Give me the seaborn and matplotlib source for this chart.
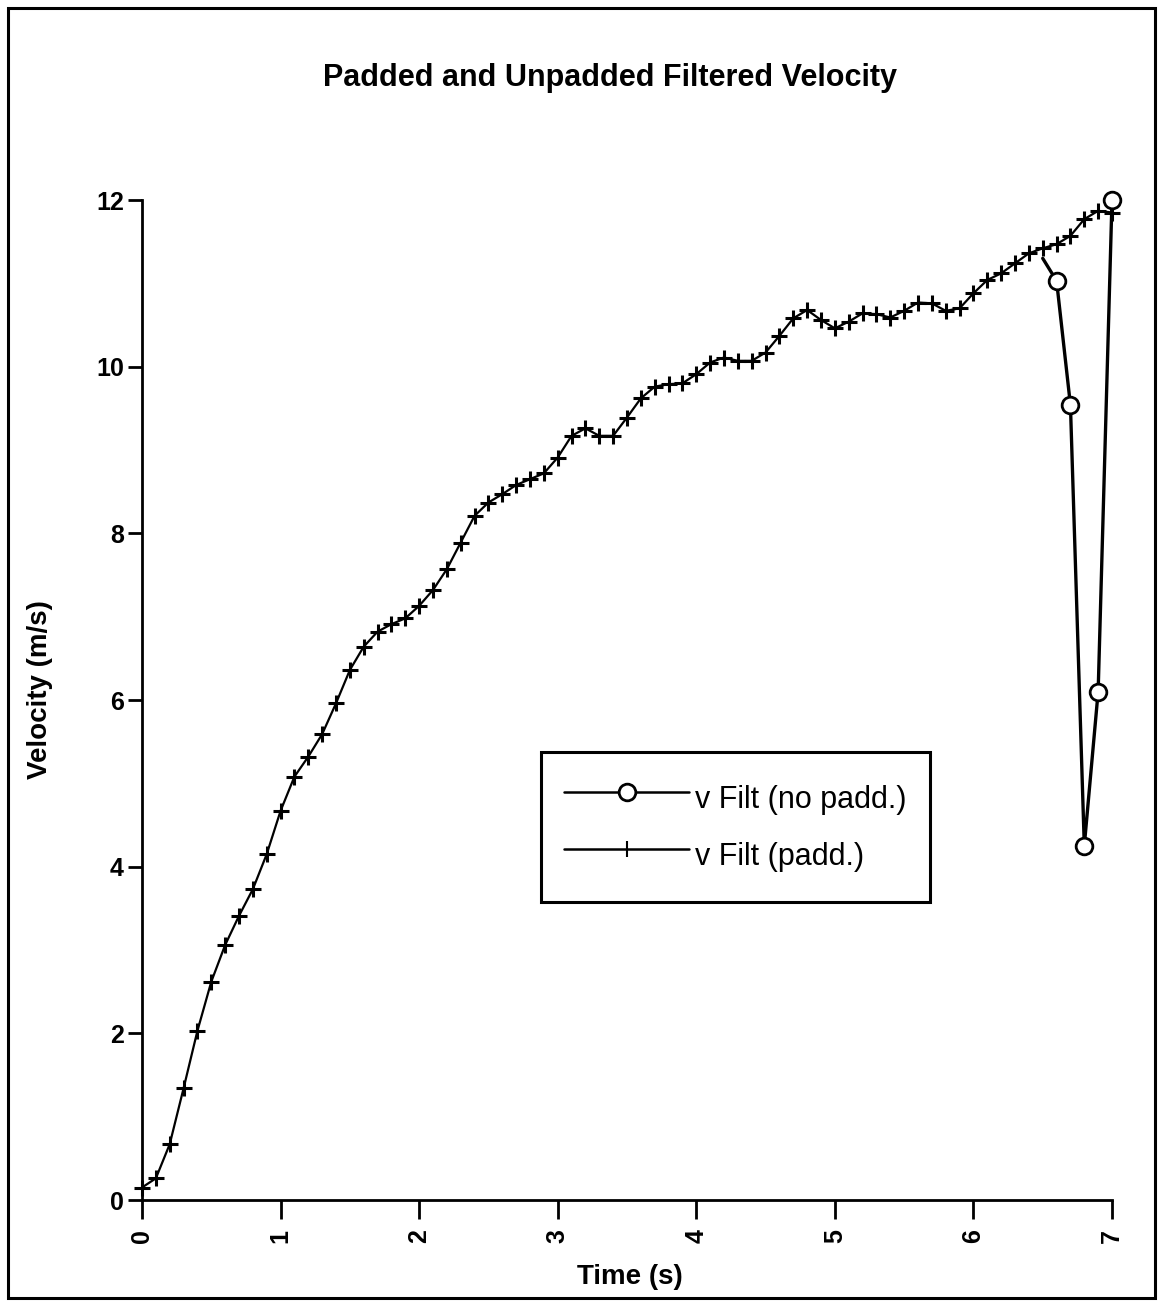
import numpy as np
import pandas as pd
import matplotlib
matplotlib.use("Agg")
import matplotlib.pyplot as plt
import seaborn as sns
from matplotlib.patches import Rectangle
from matplotlib.lines import Line2D

# Filtered velocity, padded signal (sampled every 0.1 s)
time_padded = [round(0.1 * i, 1) for i in range(71)]
v_padded = [
    0.15, 0.26, 0.67, 1.34, 2.03, 2.62, 3.06, 3.41, 3.73, 4.15,
    4.67, 5.08, 5.32, 5.59, 5.96, 6.36, 6.64, 6.82, 6.91, 6.98,
    7.13, 7.32, 7.57, 7.89, 8.21, 8.37, 8.47, 8.58, 8.65, 8.72,
    8.91, 9.17, 9.26, 9.17, 9.17, 9.39, 9.62, 9.76, 9.79, 9.80,
    9.91, 10.05, 10.11, 10.07, 10.07, 10.17, 10.37, 10.58, 10.68, 10.56,
    10.46, 10.54, 10.64, 10.63, 10.59, 10.67, 10.77, 10.76, 10.67, 10.70,
    10.88, 11.04, 11.12, 11.24, 11.36, 11.42, 11.47, 11.57, 11.77, 11.87,
    11.85,
]

# Filtered velocity without padding (end segment, where it departs)
time_unpadded = [6.5, 6.6, 6.7, 6.8, 6.9, 7.0]
v_unpadded = [11.30, 11.03, 9.54, 4.25, 6.10, 12.00]

label_unpadded = "v Filt (no padd.)"
label_padded = "v Filt (padd.)"
x_ticks = [0, 1, 2, 3, 4, 5, 6, 7]
y_ticks = [0, 2, 4, 6, 8, 10, 12]

sns.set_theme(style="white")
plt.rcParams["font.family"] = ["Liberation Sans", "DejaVu Sans"]
plt.rcParams["text.color"] = "black"
plt.rcParams["axes.labelcolor"] = "black"

W, H = 1159, 1304
fig = plt.figure(figsize=(W / 100, H / 100), dpi=100)
fig.patch.set_facecolor("white")

x0, x1 = 142, 1112
y0, y1 = 200, 1200
ax = fig.add_axes([x0 / W, 1 - y1 / H, (x1 - x0) / W, (y1 - y0) / H])

df_pad = pd.DataFrame({"t": time_padded, "v": v_padded})
df_unpad = pd.DataFrame({"t": time_unpadded, "v": v_unpadded})

sns.lineplot(data=df_pad, x="t", y="v", ax=ax, color="black", linewidth=1.6,
             marker="+", markersize=12, markeredgewidth=2.2,
             markeredgecolor="black", clip_on=False, zorder=3)
sns.lineplot(data=df_unpad, x="t", y="v", ax=ax, color="black", linewidth=2.4,
             marker="o", markersize=12, markerfacecolor="white",
             markeredgecolor="black", markeredgewidth=2.0,
             markevery=list(range(1, len(time_unpadded))),
             clip_on=False, zorder=4)

ax.set_xlim(0, 7)
ax.set_ylim(0, 12)
ax.set_xticks(x_ticks)
ax.set_yticks(y_ticks)
ax.set_xticklabels([str(t) for t in x_ticks], rotation=90,
                   fontsize=18, fontweight="bold", color="black")
ax.set_yticklabels([str(t) for t in y_ticks], fontsize=18, fontweight="bold",
                   color="black")

for side in ("top", "right"):
    ax.spines[side].set_visible(False)
for side in ("left", "bottom"):
    ax.spines[side].set_visible(True)
    ax.spines[side].set_linewidth(2.0)
    ax.spines[side].set_color("black")

ax.tick_params(axis="y", direction="out", length=10, width=2.0, pad=3,
               colors="black", left=True)
ax.tick_params(axis="x", direction="out", length=14, width=2.0, pad=7,
               colors="black", bottom=True)
ax.grid(False)

ax.set_xlabel("Time (s)", fontsize=20, fontweight="bold", color="black")
ax.set_ylabel("Velocity (m/s)", fontsize=20, fontweight="bold", color="black")
ax.xaxis.label.set_va("center")
ax.yaxis.label.set_va("center")
ax.xaxis.set_label_coords((630 - x0) / (x1 - x0), -(1277 - y1) / (y1 - y0))
ax.yaxis.set_label_coords((40 - x0) / (x1 - x0), (y1 - 690) / (y1 - y0))

fig.text(610 / W, 1 - 78 / H, "Padded and Unpadded Filtered Velocity",
         ha="center", va="center", fontsize=22, fontweight="bold",
         color="black")

handles = [
    Line2D([], [], color="black", linewidth=1.8, marker="o", markersize=12,
           markerfacecolor="white", markeredgecolor="black",
           markeredgewidth=2.0),
    Line2D([], [], color="black", linewidth=1.8, marker="|", markersize=12,
           markeredgewidth=1.5, markeredgecolor="black"),
]
leg = ax.legend(handles, [label_unpadded, label_padded],
                loc="upper left",
                bbox_to_anchor=((541 - x0) / (x1 - x0), (y1 - 752) / (y1 - y0)),
                borderaxespad=0, frameon=True, fancybox=False,
                framealpha=1, edgecolor="black", fontsize=22,
                handlelength=4.1, handleheight=2.0, handletextpad=0.2,
                labelspacing=0.32, borderpad=0.75)
leg.get_frame().set_linewidth(2.2)
for txt in leg.get_texts():
    txt.set_color("black")

# Border around the whole page
fig.patches.append(Rectangle((8 / W, 6 / H), (1155 - 8) / W, (1296 - 6) / H,
                             transform=fig.transFigure, fill=False,
                             edgecolor="black", linewidth=2.2))

fig.savefig("out.png", dpi=100, facecolor="white")
